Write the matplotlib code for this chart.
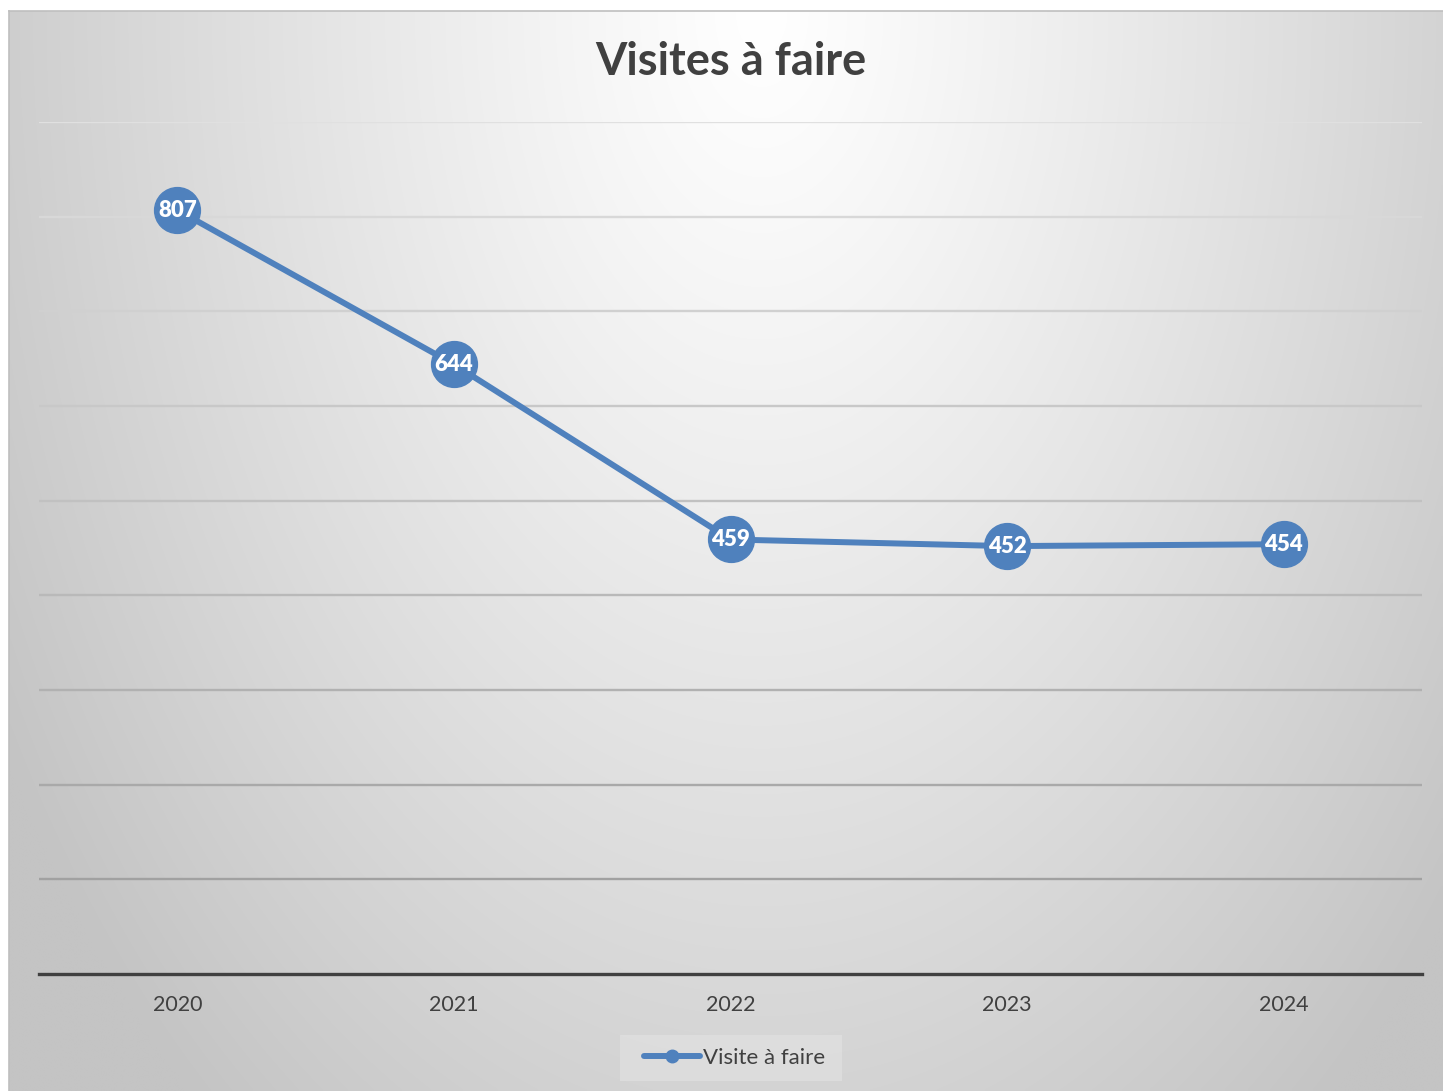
import numpy as np
import matplotlib
matplotlib.use("Agg")
import matplotlib.pyplot as plt
from matplotlib.lines import Line2D
from matplotlib.patches import Rectangle

# ---- data ----
years = ["2020", "2021", "2022", "2023", "2024"]
visites = [807, 644, 459, 452, 454]
series_name = "Visite à faire"
title = "Visites à faire"

W, H = 1443, 1091
fig = plt.figure(figsize=(W / 100, H / 100), dpi=100)
fig.patch.set_facecolor("white")

FONT = ["Lato", "DejaVu Sans"]

# ---- background frame with radial gradient ----
bg = fig.add_axes([9 / W, 0, (1443 - 9) / W, 1080 / H], zorder=0)
nx, ny = 400, 300
xx = np.linspace(-1, 1, nx)
yy = np.linspace(1, 0, ny)  # row 0 at top
X, Y = np.meshgrid(xx, yy)
D = np.sqrt((X - 0.05) ** 2 + ((1 - Y) * 0.95) ** 2)
vals = 255 - 46 * D ** 1.15
vals = np.clip(vals, 196, 255) / 255.0
img = np.dstack([vals, vals, vals])
bg.imshow(img, aspect="auto", extent=[0, 1, 0, 1], interpolation="bilinear")
bg.set_xlim(0, 1)
bg.set_ylim(0, 1)
bg.set_xticks([])
bg.set_yticks([])
for s in ["right", "bottom"]:
    bg.spines[s].set_visible(False)
for s in ["left", "top"]:
    bg.spines[s].set_color("#bfbfbf")
    bg.spines[s].set_linewidth(1.2)

# ---- plot axes ----
ax = fig.add_axes([39 / W, (H - 974) / H, (1422 - 39) / W, (974 - 122) / H], zorder=2)
ax.patch.set_alpha(0)
x = np.arange(len(years))
ax.set_xlim(-0.5, len(years) - 0.5)
ax.set_ylim(0, 900)

grid_vals = np.arange(100, 901, 100)
for g in grid_vals:
    t = (g - 100) / 800.0
    c = 0.63 + 0.25 * t
    ax.axhline(g, color=(c, c, c), linewidth=1.7, zorder=1)

ax.plot(x, visites, color="#4f81bd", linewidth=4.3, marker="o", markersize=33,
        markerfacecolor="#4f81bd", markeredgecolor="#4f81bd", zorder=3,
        solid_capstyle="round")
for xi, v in zip(x, visites):
    ax.text(xi, v, str(v), ha="center", va="center", color="white",
            fontsize=16, fontweight="heavy", family=FONT, zorder=4)

ax.set_yticks([])
ax.set_xticks(x)
ax.set_xticklabels(years, fontsize=15.5, color="#404040", family=FONT)
ax.tick_params(axis="x", length=0, pad=15)
for s in ["left", "right", "top"]:
    ax.spines[s].set_visible(False)
ax.spines["bottom"].set_color("#404040")
ax.spines["bottom"].set_linewidth(2.4)
ax.spines["bottom"].set_zorder(5)

fig.text(731 / W, 1 - 62 / H, title, ha="center", va="center", fontsize=32.5,
         fontweight="bold", color="#404040", family=FONT)

# legend background box
fig.patches.append(Rectangle((620 / W, 1 - 1081 / H), 222 / W, 46 / H,
                             transform=fig.transFigure, facecolor="#dedede",
                             edgecolor="none", alpha=0.9, zorder=1))

handle = Line2D([], [], color="#4f81bd", linewidth=4.3, marker="o", markersize=9,
                solid_capstyle="round")
leg = fig.legend([handle], [series_name], loc="center", bbox_to_anchor=(735 / W, 1 - 1058 / H),
                 frameon=False, prop={"family": FONT, "size": 16},
                 handlelength=2.5, handletextpad=0.15, borderpad=0.3, borderaxespad=0,
                 labelcolor="#404040")
leg.set_zorder(3)

fig.savefig("out.png", dpi=100)
